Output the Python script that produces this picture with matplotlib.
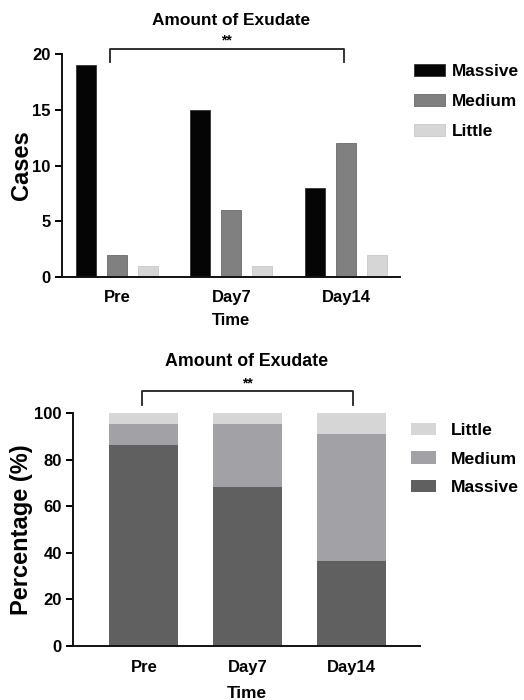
import matplotlib.pyplot as plt
import numpy as np

plt.rcParams['font.family'] = ['Liberation Sans', 'DejaVu Sans']
plt.rcParams['font.weight'] = 'bold'
plt.rcParams['axes.labelweight'] = 'bold'

times = ['Pre', 'Day7', 'Day14']
massive = [19, 15, 8]
medium = [2, 6, 12]
little = [1, 1, 2]

# percentages for the stacked chart
total = np.array(massive) + np.array(medium) + np.array(little)
massive_pct = np.array(massive) / total * 100
medium_pct = np.array(medium) / total * 100
little_pct = np.array(little) / total * 100

fig = plt.figure(figsize=(5.24, 7), dpi=100)

# ---- top: grouped counts ----
ax1 = fig.add_axes([0.118, 0.604, 0.645, 0.319])
x = np.arange(len(times))
w = 0.175
off = 0.271
ax1.bar(x - off, massive, w, color='#050505', edgecolor='#333333', linewidth=0.6, label='Massive')
ax1.bar(x, medium, w, color='#808080', edgecolor='#6a6a6a', linewidth=0.6, label='Medium')
ax1.bar(x + off, little, w, color='#d6d6d6', edgecolor='#c8c8c8', linewidth=0.6, label='Little')
ax1.set_xlim(-0.48, 2.47)
ax1.set_ylim(0, 20)
ax1.set_yticks([0, 5, 10, 15, 20])
ax1.set_xticks(x)
ax1.set_xticklabels(times)
ax1.set_ylabel('Cases', fontsize=17)
ax1.set_xlabel('Time', fontsize=12, labelpad=6)
ax1.set_title('Amount of Exudate', fontsize=12.4, fontweight='bold', pad=21)
ax1.yaxis.set_label_coords(-0.085, 0.5)

# significance bracket
ax1.plot([-0.06, -0.06, 1.98, 1.98], [19.28, 20.45, 20.45, 19.28], color='#222222', lw=1.3, clip_on=False)
ax1.text(0.96, 20.55, '**', ha='center', va='bottom', fontsize=10, fontweight='bold')

ax1.legend(loc='upper left', bbox_to_anchor=(414 / 524, 0.909), bbox_transform=fig.transFigure,
           frameon=False, fontsize=12.4, handlelength=1.8, handleheight=0.7,
           handletextpad=0.4, labelspacing=0.87, borderpad=0, borderaxespad=0)

# ---- bottom: stacked percentages ----
ax2 = fig.add_axes([0.139, 0.077, 0.663, 0.333])
w2 = 0.667
ax2.bar(x, massive_pct, w2, color='#606060', label='Massive')
ax2.bar(x, medium_pct, w2, bottom=massive_pct, color='#a2a2a6', label='Medium')
ax2.bar(x, little_pct, w2, bottom=massive_pct + medium_pct, color='#d6d6d6', label='Little')
ax2.set_xlim(-0.686, 2.667)
ax2.set_ylim(0, 100)
ax2.set_yticks([0, 20, 40, 60, 80, 100])
ax2.set_xticks(x)
ax2.set_xticklabels(times)
ax2.set_ylabel('Percentage (%)', fontsize=17)
ax2.set_xlabel('Time', fontsize=12.4, labelpad=8)
ax2.set_title('Amount of Exudate', fontsize=12.8, fontweight='bold', pad=34)
ax2.yaxis.set_label_coords(-0.115, 0.5)

ax2.plot([-0.02, -0.02, 2.02, 2.02], [103.4, 109.4, 109.4, 103.4], color='#222222', lw=1.3, clip_on=False)
ax2.text(1.0, 109.8, '**', ha='center', va='bottom', fontsize=10, fontweight='bold')

h, l = ax2.get_legend_handles_labels()
ax2.legend(h[::-1], l[::-1], loc='upper left', bbox_to_anchor=(411 / 524, 0.396), bbox_transform=fig.transFigure,
           frameon=False, fontsize=12.6, handlelength=1.45, handleheight=0.7,
           handletextpad=0.8, labelspacing=0.76, borderpad=0, borderaxespad=0)

for ax in (ax1, ax2):
    for s in ('top', 'right'):
        ax.spines[s].set_visible(False)
    for s in ('left', 'bottom'):
        ax.spines[s].set_linewidth(1.4)
        ax.spines[s].set_color('#111111')
    ax.tick_params(axis='y', labelsize=12, width=1.4, length=5, pad=3)
    ax.tick_params(axis='x', labelsize=12, length=0, pad=9)
ax2.tick_params(axis='x', pad=10)

fig.savefig('out.png', dpi=100)
